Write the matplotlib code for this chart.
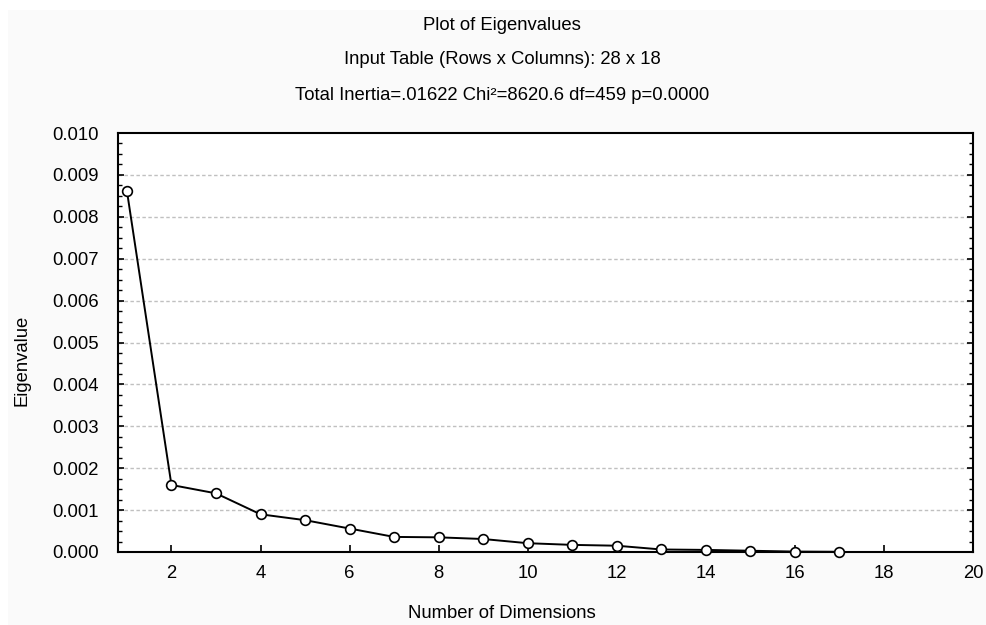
import numpy as np
import matplotlib
matplotlib.use("Agg")
from matplotlib import pyplot as plt
from matplotlib.patches import Rectangle
from matplotlib.ticker import MultipleLocator

plt.rcParams['font.family'] = ['Liberation Sans', 'DejaVu Sans']

# eigenvalue per dimension
dims = list(range(1, 18))
eigenvalues = [0.00862, 0.00160, 0.00140, 0.00090, 0.00076, 0.00056,
               0.00036, 0.00035, 0.00031, 0.00021, 0.00017, 0.00015,
               0.00006, 0.00005, 0.00003, 0.00001, 0.000005]

titles = ["Plot of Eigenvalues",
          "Input Table (Rows x Columns): 28 x 18",
          "Total Inertia=.01622 Chi\u00b2=8620.6 df=459 p=0.0000"]
x_ticks = [2, 4, 6, 8, 10, 12, 14, 16, 18, 20]
y_ticks = [0.000, 0.001, 0.002, 0.003, 0.004, 0.005, 0.006, 0.007, 0.008, 0.009, 0.010]

W, H = 986, 625
fig = plt.figure(figsize=(W / 100, H / 100), dpi=100)
fig.patch.set_facecolor('white')
# light grey panel behind the chart
bg = Rectangle((8 / W, 0), 1 - 8 / W, 1 - 10 / H, transform=fig.transFigure,
               facecolor='#fafafa', edgecolor='none', zorder=-10)
fig.add_artist(bg)

ax = fig.add_axes([118 / W, 1 - 552 / H, (973 - 118) / W, (552 - 133) / H])
ax.set_zorder(5)
ax.set_facecolor('white')

ax.plot(dims, eigenvalues, color='black', lw=1.4, marker='o', ms=7,
        mfc='white', mec='black', mew=1.2, zorder=3, clip_on=False)

ax.set_xlim(0.8, 20.0)
ax.set_ylim(0, 0.010)
ax.set_xticks(x_ticks)
ax.set_yticks(y_ticks)
ax.set_yticklabels([f"{v:.3f}" for v in y_ticks])
ax.yaxis.set_minor_locator(MultipleLocator(0.00025))

fs = 13.3
ax.tick_params(axis='x', direction='in', length=5, width=1.2, labelsize=fs,
               top=False, pad=9)
ax.tick_params(axis='y', which='major', direction='in', length=4, width=1.2,
               labelsize=fs, right=True, pad=14)
ax.tick_params(axis='y', which='minor', direction='in', length=3, width=1.0,
               right=True)

for s in ax.spines.values():
    s.set_linewidth(1.5)
    s.set_color('black')

for v in y_ticks[1:-1]:
    ax.axhline(v, color='#c0c0c0', lw=1.0, ls=(0, (2.5, 1.8)), zorder=1)

fig.text(502 / W, 1 - 614 / H, "Number of Dimensions", fontsize=fs,
         ha='center', va='center')
fig.text(22 / W, 1 - 360 / H, "Eigenvalue", fontsize=fs, rotation=90,
         ha='center', va='center')

for i, t in enumerate(titles):
    fig.text(502 / W, 1 - (25 + 35 * i) / H, t, fontsize=fs,
             ha='center', va='center')

fig.savefig("out.png", dpi=100, facecolor=fig.get_facecolor())
